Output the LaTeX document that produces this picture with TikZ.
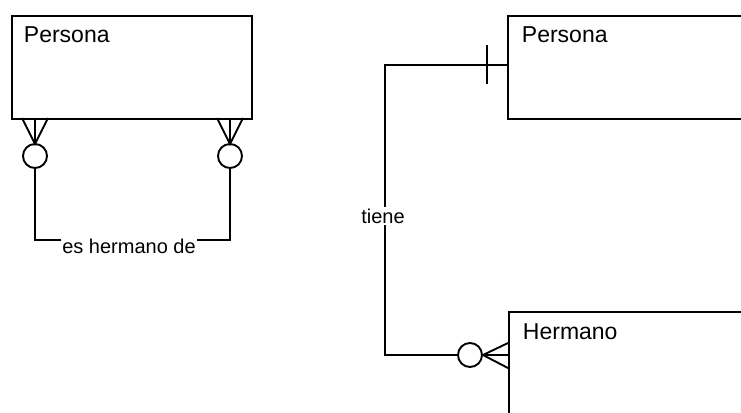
\documentclass[tikz,border=0pt]{standalone}
\usepackage{fontspec}
\setmainfont{Liberation Sans}
\usetikzlibrary{calc}
\begin{document}
\begin{tikzpicture}[x=1pt,y=-1pt,line width=1.9pt,
  entbox/.style={draw,line width=1.9pt,anchor=north west,inner sep=0pt},
  title/.style={anchor=base west,inner sep=0pt,font=\fontsize{23}{26}\selectfont},
  rellabel/.style={fill=white,inner sep=1.5pt,font=\fontsize{20}{23}\selectfont},
  opt/.style={draw,circle,minimum size=24pt,inner sep=0pt,line width=1.9pt}]
\useasboundingbox (0,0) rectangle (741,412);
\clip (0,0) rectangle (741,412);
% left entity
\node[entbox,minimum width=240pt,minimum height=103pt] (p1) at (11,15) {};
\node[title] (p1t) at (23,42) {Persona};
% left crow's feet
\coordinate (fl) at (35,144);
\coordinate (fr) at (230,144);
\draw (22,118) -- (fl) -- (48,118) (35,118) -- (fl);
\draw (217,118) -- (fr) -- (243,118) (230,118) -- (fr);
\node[opt] (cl) at (35,156) {};
\node[opt] (cr) at (230,156) {};
\coordinate (bl) at (35,240);
\coordinate (br) at (230,240);
\draw (cl.south) -- (bl) -- (br) -- (cr.south);
\node[rellabel] (lab1) at (129,246) {es hermano de};
% right Persona
\node[entbox,minimum width=260pt,minimum height=103pt] (p2) at (507,15) {};
\node[title] (p2t) at (521,42) {Persona};
% Hermano
\node[entbox,minimum width=260pt,minimum height=130pt] (h) at (508,311) {};
\node[title] (ht) at (522,339) {Hermano};
% relationship tiene
\coordinate (tl) at (385,65);
\coordinate (bl2) at (385,355);
\node[opt] (c2) at (470,355) {};
\draw (p2.west |- tl) -- (tl) -- (bl2) -- (c2.west);
\draw (487,45) -- (487,84);
\draw (h.west |- 0,343) -- (c2.east) -- (h.west |- 0,368) (h.west |- 0,355) -- (c2.east);
\node[rellabel] (lab2) at (383,216) {tiene};
\end{tikzpicture}
\end{document}
